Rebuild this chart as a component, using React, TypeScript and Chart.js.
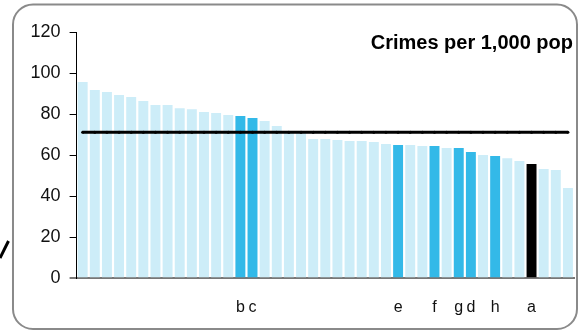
import React, { useEffect, useRef } from "react";
import { Chart, registerables } from "chart.js";

Chart.register(...registerables);

const categories: string[] = [
  "", "", "", "", "", "", "", "", "", "",
  "", "", "", "b", "c", "", "", "", "", "",
  "", "", "", "", "", "", "e", "", "", "f",
  "", "g", "d", "", "h", "", "", "a", "", "", "",
];

const crimeRates: number[] = [
  95.8, 91.8, 90.9, 89.4, 88.4, 86.5, 84.5, 84.5, 83.0, 82.5,
  81.1, 80.6, 79.7, 79.2, 78.2, 76.7, 74.3, 71.0, 70.8, 67.9,
  67.9, 67.5, 67.0, 67.0, 66.5, 65.5, 65.0, 65.0, 64.5, 64.5,
  63.6, 63.6, 61.6, 60.1, 59.6, 58.6, 57.2, 55.7, 53.3, 52.8, 44.0,
];

const averageRate = 71.2;
const highlighted: string[] = ["b", "c", "e", "f", "g", "d", "h"];
const focus = "a";
const yTicks: number[] = [0, 20, 40, 60, 80, 100, 120];
const title = "Crimes per 1,000 pop";

const LIGHT = "#CDEDF8";
const MID = "#33B9E8";
const DARK = "#000000";
const FONT = "'Liberation Sans', Arial, Helvetica, sans-serif";

export default function App() {
  const ref = useRef<HTMLCanvasElement | null>(null);

  useEffect(() => {
    if (!ref.current) return;
    const barColors = categories.map((c) =>
      c === focus ? DARK : highlighted.includes(c) ? MID : LIGHT
    );

    const decor = {
      id: "decor",
      beforeDraw(chart: any) {
        const ctx = chart.ctx;
        ctx.save();
        ctx.strokeStyle = "#8a8a8a";
        ctx.lineWidth = 2;
        ctx.beginPath();
        (ctx as any).roundRect(13, 4.5, 564, 324.5, 20);
        ctx.stroke();
        ctx.strokeStyle = "#000";
        ctx.lineWidth = 3;
        ctx.beginPath();
        ctx.moveTo(0, 258);
        ctx.lineTo(8.5, 241);
        ctx.stroke();
        ctx.restore();
      },
      afterDraw(chart: any) {
        const ctx = chart.ctx;
        ctx.save();
        ctx.fillStyle = "#000";
        ctx.font = `bold 20px ${FONT}`;
        ctx.textAlign = "right";
        ctx.textBaseline = "alphabetic";
        ctx.fillText(title, 573, 49);
        ctx.restore();
      },
    };

    const chart = new Chart(ref.current, {
      type: "bar",
      data: {
        labels: categories,
        datasets: [
          {
            type: "line",
            data: categories.map(() => averageRate),
            borderColor: "#000",
            borderWidth: 3,
            pointRadius: 1.5,
            pointBackgroundColor: "#000",
            pointBorderWidth: 0,
            order: 0,
          } as any,
          {
            type: "bar",
            data: crimeRates,
            backgroundColor: barColors,
            barPercentage: 0.82,
            categoryPercentage: 1,
            order: 1,
          },
        ],
      },
      options: {
        responsive: false,
        animation: false,
        layout: { padding: { top: 32.3, right: 1, bottom: 0, left: 0 } },
        plugins: {
          legend: { display: false },
          tooltip: { enabled: false },
          title: { display: false },
        },
        scales: {
          x: {
            grid: { display: false, drawTicks: false },
            border: { display: true, color: "#777", width: 2 },
            ticks: {
              autoSkip: false,
              maxRotation: 0,
              minRotation: 0,
              padding: 20,
              color: "#111",
              font: { family: FONT, size: 16 },
            },
            afterFit: (scale: any) => {
              scale.height = 52.7;
              scale.paddingLeft = 0;
              scale.paddingRight = 0;
            },
          },
          y: {
            min: 0,
            max: 120,
            afterBuildTicks: (scale: any) => {
              scale.ticks = yTicks.map((v) => ({ value: v }));
            },
            grid: {
              display: true,
              drawOnChartArea: false,
              drawTicks: true,
              tickLength: 7,
              color: (ctx: any) => (ctx.tick && ctx.tick.value === 0 ? "#777" : "#000"),
              lineWidth: (ctx: any) => (ctx.tick && ctx.tick.value === 0 ? 2 : 1),
            },
            border: { display: true, color: "#000", width: 1 },
            ticks: {
              padding: 9,
              color: "#111",
              font: { family: FONT, size: 18 },
            },
            afterFit: (scale: any) => {
              scale.width = 76.6;
            },
          },
        },
      },
      plugins: [decor],
    });

    return () => chart.destroy();
  }, []);

  return (
    <div style={{ position: "absolute", left: 0, top: 0, width: 578, height: 331, background: "#fff" }}>
      <canvas ref={ref} width={578} height={331} style={{ display: "block" }} />
    </div>
  );
}
